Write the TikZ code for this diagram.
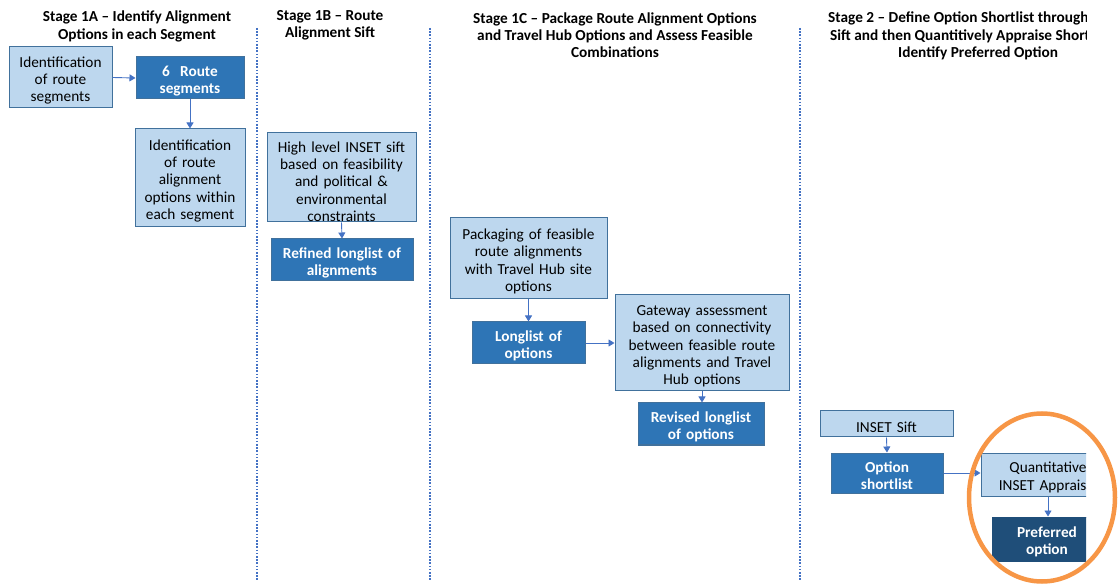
\documentclass[tikz,border=0pt]{standalone}
\usepackage{fontspec}
\setmainfont{Carlito}
\usetikzlibrary{arrows.meta,shapes.geometric}
\definecolor{lightfill}{HTML}{BDD7EE}
\definecolor{lightdraw}{HTML}{41719C}
\definecolor{darkfill}{HTML}{2E75B6}
\definecolor{darkerfill}{HTML}{1F4E79}
\definecolor{arrowblue}{HTML}{4472C4}
\definecolor{ringorange}{HTML}{F79646}
\tikzset{
  box/.style={rectangle, inner sep=0pt, align=center, line width=1pt,
    font=\fontsize{15.3}{17.4}\selectfont, execute at begin node={\rule{0pt}{16.5pt}}},
  lightbox/.style={box, fill=lightfill, draw=lightdraw, text=black},
  darkbox/.style={box, fill=darkfill, draw=lightdraw, text=white, font=\fontsize{15.3}{17.4}\selectfont\bfseries},
  darkerbox/.style={box, fill=darkerfill, draw=darkerfill, text=white, font=\fontsize{15.3}{17.4}\selectfont\bfseries},
  title/.style={inner sep=0pt, align=center, font=\fontsize{15.3}{17.2}\selectfont\bfseries},
  titleline/.style={inner sep=0pt, anchor=west, font=\fontsize{15.3}{17.2}\selectfont\bfseries},
  arr/.style={draw=arrowblue, line width=0.9pt, -{Triangle[width=7pt,length=6pt]}},
  divider/.style={draw=arrowblue, line width=1.3pt, dash pattern=on 1.6pt off 1.6pt},
  ring/.style={draw=ringorange, line width=4.5pt}
}
\begin{document}
\begin{tikzpicture}[x=1pt,y=-1pt]
\useasboundingbox (0,0) rectangle (1120,585);
\begin{scope}
\clip (0,0) rectangle (1086,585);
% titles
\node[title] (t1a) at (137,26.5) {Stage 1A -- Identify Alignment\\Options in each Segment};
\node[title] (t1b) at (330,25.5) {Stage 1B -- Route\\Alignment Sift};
\node[title] (t1c) at (615,35) {Stage 1C -- Package Route Alignment Options\\and Travel Hub Options and Assess Feasible\\Combinations};
\node[titleline] (t2a) at (828,18.5) {Stage 2 -- Define Option Shortlist through};
\node[titleline] (t2b) at (830,36.5) {Sift and then Quantitively Appraise Shortlist};
\node[titleline] (t2c) at (898,53.5) {Identify Preferred Option};
% dividers
\coordinate (d1t) at (257,28); \coordinate (d1b) at (257,580);
\coordinate (d2t) at (430,28); \coordinate (d2b) at (430,580);
\coordinate (d3t) at (800,28); \coordinate (d3b) at (800,580);
\draw[divider] (d1t) -- (d1b);
\draw[divider] (d2t) -- (d2b);
\draw[divider] (d3t) -- (d3b);
% stage 1A
\node[lightbox, minimum width=103pt, text width=103pt, minimum height=61pt] (seg) at (60.5,77.5) {Identification\\of route\\segments};
\node[darkbox, minimum width=108pt, text width=108pt, minimum height=42pt] (six) at (190,78) {6\ \ Route\\segments};
\node[lightbox, minimum width=110pt, text width=110pt, minimum height=98pt] (opts) at (190,178) {Identification\\of route\\alignment\\options within\\each segment};
% stage 1B
\node[lightbox, minimum width=149pt, text width=149pt, minimum height=89pt, execute at begin node={\rule{0pt}{19pt}}] (sift) at (341.5,177.5) {High level INSET sift\\based on feasibility\\and political \&\\environmental\\constraints};
\node[darkbox, minimum width=142pt, text width=142pt, minimum height=42pt] (refined) at (342,260) {Refined longlist of\\alignments};
% stage 1C
\node[lightbox, minimum width=157pt, text width=157pt, minimum height=81pt] (pack) at (528.5,258.5) {Packaging of feasible\\route alignments\\with Travel Hub site\\options};
\node[darkbox, minimum width=113pt, text width=113pt, minimum height=42pt] (long) at (528.5,343) {Longlist of\\options};
\node[lightbox, minimum width=174pt, text width=174pt, minimum height=96pt] (gate) at (702,343) {Gateway assessment\\based on connectivity\\between feasible route\\alignments and Travel\\Hub options};
\node[darkbox, minimum width=126pt, text width=126pt, minimum height=42pt] (revised) at (701,424) {Revised longlist\\of options};
% stage 2
\node[lightbox, minimum width=133pt, text width=133pt, minimum height=26pt] (insetsift) at (886.5,424) {INSET Sift};
\node[darkbox, minimum width=112pt, text width=112pt, minimum height=40pt] (short) at (887,473) {Option\\shortlist};
\node[lightbox, minimum width=134pt, text width=134pt, minimum height=43pt] (quant) at (1048,474.5) {Quantitative\\INSET Appraisal};
\node[darkerbox, minimum width=110pt, text width=110pt, minimum height=44pt] (pref) at (1047,539) {Preferred\\option};
% connectors
\draw[arr] (seg.east) -- (six.west);
\draw[arr] (six.south) -- (opts.north);
\draw[arr] (sift.south) -- (refined.north);
\draw[arr] (pack.south) -- (long.north);
\draw[arr] (long.east) -- (gate.west);
\draw[arr] (gate.south) -- (gate.south |- revised.north);
\draw[arr] (insetsift.south) -- (short.north);
\draw[arr] (short.east) -- (short.east -| quant.west);
\draw[arr] (quant.south) -- (quant.south |- pref.north);
\end{scope}
% highlight ring
\node[ring, ellipse, minimum width=146pt, minimum height=168pt, inner sep=0pt] (hl) at (1042,497.5) {};
\end{tikzpicture}
\end{document}
